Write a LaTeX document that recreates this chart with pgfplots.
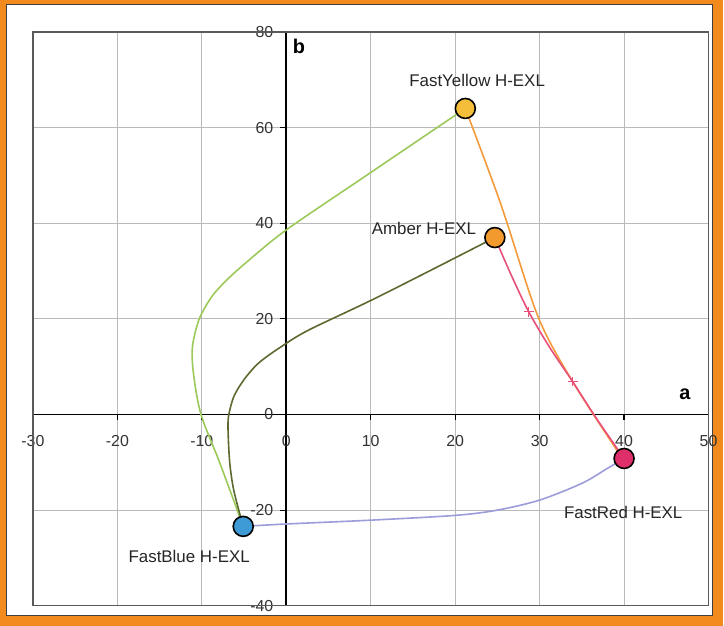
\documentclass[border=0pt]{standalone}
\usepackage{fontspec}
\setmainfont{Liberation Sans}
\usepackage{pgfplots}
\pgfplotsset{compat=1.18}

\definecolor{frameorange}{HTML}{F28A1E}
\definecolor{lightgreen}{HTML}{9CC95A}
\definecolor{olivegreen}{HTML}{5C6A30}
\definecolor{lilac}{HTML}{9C9CDA}
\definecolor{lineorange}{HTML}{F39A3A}
\definecolor{linepink}{HTML}{E8507A}
\definecolor{cyellow}{HTML}{F5BE3A}
\definecolor{camber}{HTML}{F39A2E}
\definecolor{cred}{HTML}{DE2F6A}
\definecolor{cblue}{HTML}{3E9BD6}

\begin{document}
\begin{tikzpicture}
% orange frame and white panel
\fill[frameorange] (0bp,0bp) rectangle (362bp,313.5bp);
\filldraw[fill=white, draw=black!75, line width=0.5bp] (3.5bp,5bp) rectangle (357bp,311bp);

\begin{axis}[
    at={(16.5bp,10bp)}, anchor=south west,
    scale only axis, width=338.5bp, height=287.5bp,
    xmin=-30, xmax=50, ymin=-40, ymax=80,
    axis lines=middle,
    axis line style={-, black, line width=0.8bp},
    xtick={-30,-20,...,50}, ytick={-40,-20,...,80},
    hide obscured x ticks=false, hide obscured y ticks=false,
    grid=major, grid style={gray!55, line width=0.5bp},
    tick align=outside, major tick length=3bp,
    tick style={black, line width=0.6bp},
    /pgf/number format/assume math mode=true,
    tick label style={font=\fontsize{8}{9}\selectfont, text=black!80},
    xticklabel style={yshift=-4bp},
    clip=false,
  ]
  % plot-area box
  \draw[gray!70!black, line width=0.6bp] (rel axis cs:0,0) rectangle (rel axis cs:1,1);

  % FastBlue -> FastYellow (light green)
  \addplot[lightgreen, line width=0.8bp, smooth] coordinates {
    (-5.1,-23.4) (-7.9,-10) (-10.1,0) (-11,8.7) (-11.1,14.3) (-10.3,20)
    (-8.8,24.7) (-7,28.2) (-4.8,31.7) (0,38.6) (10,50.6) (21.2,64)};
  % FastBlue -> Amber (olive)
  \addplot[olivegreen, line width=0.8bp, smooth] coordinates {
    (-5.1,-23.4) (-6.2,-16) (-6.7,-10) (-6.9,-3) (-6.8,0) (-6.2,3.8)
    (-5,7.3) (-3.25,10.8) (-0.5,14.3) (2.7,17.7) (11,24.7) (24.7,37)};
  % FastBlue -> FastRed (lilac)
  \addplot[lilac, line width=0.8bp, smooth] coordinates {
    (-5.1,-23.4) (0,-22.9) (10,-22.1) (20,-21.1) (25,-20) (30,-17.9)
    (35,-14.4) (38,-11.3) (40,-9.2)};
  % FastYellow -> FastRed (orange)
  \addplot[lineorange, line width=0.8bp, smooth] coordinates {
    (21.2,64) (25.4,44) (29.8,20.5) (33.9,6.9) (39.8,-9.2)};
  % Amber -> FastRed (pink)
  \addplot[linepink, line width=0.8bp, smooth, mark=+, mark size=2.5bp, mark indices={3,5},
           mark options={solid, line width=0.6bp}] coordinates {
    (24.7,37) (26.6,29.3) (28.7,21.5) (31.2,14) (33.9,6.9) (36.6,-0.5) (40,-9.2)};

  % colour points
  \addplot[only marks, mark=*, mark size=5bp, draw=black, line width=0.8bp, fill=cyellow]
    coordinates {(21.2,64)};
  \addplot[only marks, mark=*, mark size=5bp, draw=black, line width=0.8bp, fill=camber]
    coordinates {(24.7,37)};
  \addplot[only marks, mark=*, mark size=5bp, draw=black, line width=0.8bp, fill=cred]
    coordinates {(40,-9.2)};
  \addplot[only marks, mark=*, mark size=5bp, draw=black, line width=0.8bp, fill=cblue]
    coordinates {(-5.1,-23.4)};

  % labels
  \node[font=\fontsize{8.5}{9}\selectfont, text=black!85] at (axis cs:22.6,69.9) {FastYellow H-EXL};
  \node[font=\fontsize{8.5}{9}\selectfont, text=black!85] at (axis cs:16.3,38.8) {Amber H-EXL};
  \node[font=\fontsize{8.5}{9}\selectfont, text=black!85] at (axis cs:39.9,-20.5) {FastRed H-EXL};
  \node[font=\fontsize{8.5}{9}\selectfont, text=black!85] at (axis cs:-11.5,-29.6) {FastBlue H-EXL};
  \node[font=\bfseries\fontsize{10}{11}\selectfont] at (axis cs:1.5,77) {b};
  \node[font=\bfseries\fontsize{10}{11}\selectfont] at (axis cs:47.2,4.2) {a};
\end{axis}
\end{tikzpicture}
\end{document}
